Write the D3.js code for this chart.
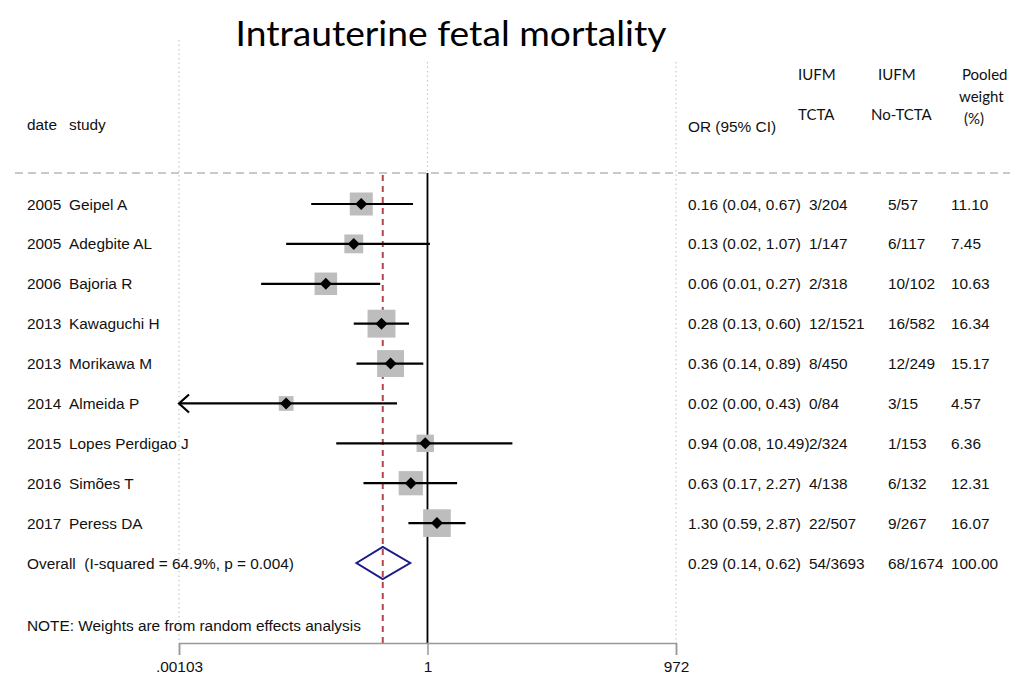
<!DOCTYPE html>
<html><head><meta charset="utf-8">
<script src="https://cdn.jsdelivr.net/npm/d3@7/dist/d3.min.js"></script>
<style>body{margin:0;background:#fff}svg{display:block}</style>
</head><body>
<svg id="c" width="1024" height="678"></svg>
<script>
const years   = ["2005","2005","2006","2013","2013","2014","2015","2016","2017"];
const studies = ["Geipel A","Adegbite AL","Bajoria R","Kawaguchi H","Morikawa M","Almeida P","Lopes Perdigao J","Simões T","Peress DA"];
const orVals  = [0.16,0.13,0.06,0.28,0.36,0.02,0.94,0.63,1.30];
const ciLow   = [0.04,0.02,0.01,0.13,0.14,0.00,0.08,0.17,0.59];
const ciHigh  = [0.67,1.07,0.27,0.60,0.89,0.43,10.49,2.27,2.87];
const orText  = ["0.16 (0.04, 0.67)","0.13 (0.02, 1.07)","0.06 (0.01, 0.27)","0.28 (0.13, 0.60)","0.36 (0.14, 0.89)","0.02 (0.00, 0.43)","0.94 (0.08, 10.49)","0.63 (0.17, 2.27)","1.30 (0.59, 2.87)"];
const tcta    = ["3/204","1/147","2/318","12/1521","8/450","0/84","2/324","4/138","22/507"];
const noTcta  = ["5/57","6/117","10/102","16/582","12/249","3/15","1/153","6/132","9/267"];
const weights = [11.10,7.45,10.63,16.34,15.17,4.57,6.36,12.31,16.07];
const overall = {label:"Overall  (I-squared = 64.9%, p = 0.004)", or:0.29, lo:0.14, hi:0.62,
                 orText:"0.29 (0.14, 0.62)", tcta:"54/3693", noTcta:"68/1674", weight:"100.00"};
const tickVals = [0.00103, 1, 972];
const tickLabels = [".00103","1","972"];

const svg = d3.select("#c");
const x = d3.scaleLog().domain([0.00103, 972]).range([179, 676]);
const y = d3.scaleLinear().domain([0, 9]).range([204, 563]);
const axisY = 643;
const FS = 15.4;
const sans = "'Liberation Sans', Arial, sans-serif";
const hum = "Lato, 'Open Sans', sans-serif";

// title
svg.append("text").attr("x", 451).attr("y", 46).attr("text-anchor","middle")
  .attr("font-family", hum).attr("font-size", 34).attr("fill","#000")
  .attr("textLength", 431).attr("lengthAdjust","spacingAndGlyphs")
  .text("Intrauterine fetal mortality");

// dotted verticals
const dotted = [[x(0.00103), 40], [x(1), 62], [x(972), 62]];
dotted.forEach(([xx, y0]) => {
  svg.append("line").attr("x1", xx).attr("x2", xx).attr("y1", y0).attr("y2", axisY)
    .attr("stroke","#c8c8c8").attr("stroke-width",1.2).attr("stroke-dasharray","1.5,3");
});

// header dashed line
svg.append("line").attr("x1", 15).attr("x2", 1010).attr("y1", 173).attr("y2", 173)
  .attr("stroke","#b8b8b8").attr("stroke-width",1.6).attr("stroke-dasharray","8,5");

// null line
svg.append("line").attr("x1", x(1)).attr("x2", x(1)).attr("y1", 173).attr("y2", axisY)
  .attr("stroke","#000").attr("stroke-width",1.8);
// overall dashed red line
svg.append("line").attr("x1", x(overall.or)).attr("x2", x(overall.or)).attr("y1", 175).attr("y2", axisY)
  .attr("stroke","#b5474b").attr("stroke-width",2).attr("stroke-dasharray","6,5");

// axis
const axis = d3.axisBottom(x).tickValues(tickVals).tickFormat((d,i)=>tickLabels[i]).tickSize(12).tickPadding(6);
const ga = svg.append("g").attr("transform", `translate(0,${axisY})`).call(axis);
ga.select(".domain").attr("stroke","#999").attr("stroke-width",1.5);
ga.selectAll(".tick line").attr("stroke","#999").attr("stroke-width",1.5);
ga.selectAll(".tick text").attr("font-family", sans).attr("font-size", FS).attr("fill","#111");

// headers
const hdr = (t, xx, yy, f, s) => svg.append("text").attr("x", xx).attr("y", yy)
  .attr("font-family", f).attr("font-size", s).attr("fill","#111").text(t);
hdr("date", 27, 130, sans, FS);
hdr("study", 69, 130, sans, FS);
hdr("OR (95% CI)", 688, 132, sans, FS);
hdr("IUFM", 798, 80, hum, 15);
hdr("TCTA", 798, 120, hum, 15);
hdr("IUFM", 878, 80, hum, 15);
hdr("No-TCTA", 871, 120, hum, 15);
hdr("Pooled", 962, 80, hum, 15);
hdr("weight", 959, 102, hum, 15);
hdr("(%)", 964, 124, hum, 15);

// rows
const rows = studies.map((s,i)=>({i, year:years[i], study:s, or:orVals[i], lo:ciLow[i], hi:ciHigh[i],
  orText:orText[i], tcta:tcta[i], noTcta:noTcta[i], w:weights[i]}));

const g = svg.append("g");
const [dMin, dMax] = x.domain();
rows.forEach(r => {
  const yy = y(r.i);
  const side = 6.9 * Math.sqrt(r.w);
  const loClip = r.lo < dMin || r.lo <= 0;
  const xl = loClip ? x(dMin) : x(r.lo);
  const xh = x(Math.min(r.hi, dMax));
  g.append("rect").attr("x", x(r.or) - side/2).attr("y", yy - side/2)
    .attr("width", side).attr("height", side).attr("fill","#bdbdbd");
  g.append("line").attr("x1", xl).attr("x2", xh).attr("y1", yy).attr("y2", yy)
    .attr("stroke","#000").attr("stroke-width",2.2);
  if (loClip) {
    g.append("path").attr("d", `M${xl+10},${yy-9}L${xl},${yy}L${xl+10},${yy+9}`)
      .attr("fill","none").attr("stroke","#000").attr("stroke-width",2.2);
  }
  const d = 6;
  g.append("path").attr("d", `M${x(r.or)-d},${yy}L${x(r.or)},${yy-d}L${x(r.or)+d},${yy}L${x(r.or)},${yy+d}Z`)
    .attr("fill","#000");
  const t = (txt, xx) => g.append("text").attr("x", xx).attr("y", yy + 5.5)
    .attr("font-family", sans).attr("font-size", FS).attr("fill","#111").text(txt);
  t(r.year, 27); t(r.study, 69);
  t(r.orText, 688); t(r.tcta, 809); t(r.noTcta, 888); t(r.w.toFixed(2), 951);
});

// overall
const yo = y(9);
svg.append("path").attr("d", `M${x(overall.lo)},${yo}L${x(overall.or)},${yo-16}L${x(overall.hi)},${yo}L${x(overall.or)},${yo+16}Z`)
  .attr("fill","none").attr("stroke","#1a1a8a").attr("stroke-width",2);
const to = (txt, xx) => svg.append("text").attr("x", xx).attr("y", yo + 5.5)
  .attr("font-family", sans).attr("font-size", FS).attr("fill","#111").attr("xml:space","preserve").text(txt);
to(overall.label, 27); to(overall.orText, 688); to(overall.tcta, 809); to(overall.noTcta, 888); to(overall.weight, 951);

svg.append("text").attr("x", 27).attr("y", 631).attr("font-family", sans).attr("font-size", FS)
  .attr("fill","#111").text("NOTE: Weights are from random effects analysis");
</script>
</body></html>
